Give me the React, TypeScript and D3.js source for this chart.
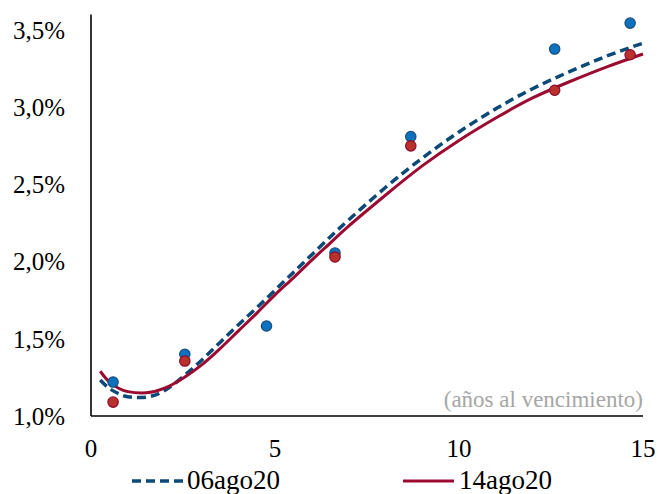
import React from "react";
import * as d3 from "d3";

const W = 658;
const H = 494;

// Observed yields (years to maturity, %)
const obsX06 = [0.6, 2.55, 4.77, 6.63, 8.69, 12.6, 14.65];
const obsY06 = [1.22, 1.4, 1.583, 2.056, 2.81, 3.377, 3.545];
const obsX14 = [0.6, 2.55, 6.63, 8.69, 12.6, 14.65];
const obsY14 = [1.09, 1.356, 2.03, 2.75, 3.11, 3.34];

// Fitted curves
const curveX06 = [0.25, 0.5, 0.75, 1, 1.5, 2, 2.5, 3, 3.5, 4, 4.5, 5, 5.5, 6, 6.5, 7, 8, 9, 10, 11, 12, 13, 14, 15];
const curveY06 = [1.233, 1.178, 1.145, 1.125, 1.122, 1.165, 1.255, 1.36, 1.475, 1.59, 1.7, 1.815, 1.93, 2.045, 2.16, 2.27, 2.48, 2.67, 2.84, 2.99, 3.12, 3.23, 3.33, 3.415];
const curveX14 = [0.25, 0.5, 0.75, 1, 1.5, 2, 2.5, 3, 3.5, 4, 4.5, 5, 5.5, 6, 6.5, 7, 8, 9, 10, 11, 12, 13, 14, 15];
const curveY14 = [1.29, 1.22, 1.18, 1.158, 1.15, 1.18, 1.245, 1.33, 1.435, 1.55, 1.665, 1.785, 1.895, 2.01, 2.12, 2.23, 2.43, 2.62, 2.785, 2.93, 3.06, 3.165, 3.26, 3.345];

const xTicks = [0, 5, 10, 15];
const yTicks = [1.0, 1.5, 2.0, 2.5, 3.0, 3.5];
const seriesNames = ["06ago20", "14ago20"];

export default function App() {
  const x = d3.scaleLinear().domain([0, 15]).range([91, 643]);
  const y = d3.scaleLinear().domain([1.0, 3.6]).range([416, 14.6]);
  const line = d3
    .line<[number, number]>()
    .x((d) => x(d[0]))
    .y((d) => y(d[1]))
    .curve(d3.curveNatural);
  const pts06 = curveX06.map((v, i) => [v, curveY06[i]] as [number, number]);
  const pts14 = curveX14.map((v, i) => [v, curveY14[i]] as [number, number]);
  const font = "'Liberation Serif', 'Times New Roman', serif";
  const fmt = (v: number) => v.toFixed(1).replace(".", ",") + "%";

  return (
    <svg
      width={W}
      height={H}
      style={{ position: "absolute", left: 0, top: 0, background: "#fff" }}
      fontFamily={font}
    >
      {/* axes */}
      <line x1={x(0)} x2={x(0)} y1={y(3.6)} y2={y(1.0)} stroke="#000" strokeWidth={1.6} />
      <line x1={x(0)} x2={x(15)} y1={y(1.0)} y2={y(1.0)} stroke="#000" strokeWidth={1.6} />
      {yTicks.map((t) => (
        <text key={t} x={65} y={y(t)} dy="0.35em" textAnchor="end" fontSize={25} fill="#000">
          {fmt(t)}
        </text>
      ))}
      {xTicks.map((t) => (
        <text key={t} x={x(t)} y={457} textAnchor="middle" fontSize={25} fill="#000">
          {t}
        </text>
      ))}
      <text x={643} y={407} textAnchor="end" fontSize={23} fill="#A6A6A6">
        (años al vencimiento)
      </text>

      {/* curves */}
      <path d={line(pts06) || ""} fill="none" stroke="#0B4A78" strokeWidth={3.5} strokeDasharray="9,5" />
      <path d={line(pts14) || ""} fill="none" stroke="#9B0A30" strokeWidth={3} />

      {/* points */}
      {obsX06.map((v, i) => (
        <circle key={"b" + i} cx={x(v)} cy={y(obsY06[i])} r={5.2} fill="#0A72BE" stroke="#1B4D7A" strokeWidth={1.2} />
      ))}
      {obsX14.map((v, i) => (
        <circle key={"r" + i} cx={x(v)} cy={y(obsY14[i])} r={5.2} fill="#B8312A" stroke="#8E0A2E" strokeWidth={1.2} />
      ))}

      {/* legend */}
      <line x1={132} x2={183} y1={481} y2={481} stroke="#0B4A78" strokeWidth={3.5} strokeDasharray="9,5" />
      <text x={187} y={489} fontSize={27} fill="#000">{seriesNames[0]}</text>
      <line x1={403} x2={454} y1={481} y2={481} stroke="#9B0A30" strokeWidth={3} />
      <text x={459} y={489} fontSize={27} fill="#000">{seriesNames[1]}</text>
    </svg>
  );
}
